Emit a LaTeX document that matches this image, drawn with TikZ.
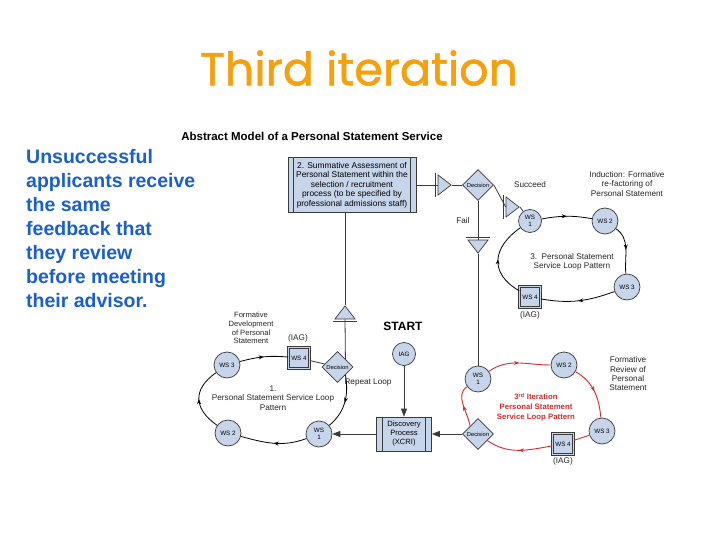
\documentclass[tikz,border=0pt]{standalone}
\usepackage{fontspec}
\setmainfont{Liberation Sans}
\newfontfamily\titlefont[FakeBold=1.2]{Poppins}
\usetikzlibrary{shapes.geometric, arrows.meta, decorations.markings, calc}
\definecolor{nodefill}{HTML}{C6D5EA}
\definecolor{nodeline}{HTML}{3A3A3A}
\definecolor{loopred}{HTML}{D42A2A}
\definecolor{titleorange}{HTML}{F5A00F}
\definecolor{noteblue}{HTML}{1A5FCB}
\begin{document}
\begin{tikzpicture}[x=1pt, y=1pt,
  ws/.style={circle, draw=nodeline, fill=nodefill, line width=0.7pt, minimum size=26pt,
             inner sep=0pt, align=center, font=\fontsize{6.3}{6.8}\selectfont},
  wsq/.style={rectangle, draw=nodeline, line width=0.9pt, double=nodefill, double distance=1.4pt,
              fill=nodefill, minimum size=21pt, inner sep=0pt, font=\fontsize{6.3}{6.8}\selectfont},
  dec/.style={diamond, draw=nodeline, fill=nodefill, line width=0.7pt, minimum size=31pt,
              inner xsep=-6pt, inner ysep=0pt, font=\fontsize{5.8}{7}\selectfont},
  proc/.style={rectangle, draw=nodeline, fill=nodefill, line width=0.7pt, align=center,
               inner sep=0pt, font=\fontsize{8.4}{9.5}\selectfont},
  tri/.style={isosceles triangle, isosceles triangle stretches, draw=nodeline, fill=nodefill,
              line width=0.7pt, inner sep=0pt, minimum width=20pt, minimum height=13pt},
  lbl/.style={align=center, text=black!85, font=\fontsize{8.2}{9.3}\selectfont},
  redlbl/.style={align=center, text=loopred, font=\bfseries\fontsize{7.8}{9.6}\selectfont},
  wire/.style={line width=0.8pt, draw=nodeline},
  redwire/.style={line width=0.9pt, draw=loopred},
  arr/.style={wire, -{Triangle[length=8pt, width=6pt]}},
  bar/.style={line width=1pt, draw=nodeline},
  lp/.style={line width=0.8pt, draw=black, postaction={decorate},
             decoration={markings, mark=at position 0.5 with {\arrow{Stealth[length=5pt, width=4pt]}}}},
  redlp/.style={lp, loopred, line width=0.9pt}
]
\useasboundingbox (0,0) rectangle (720,-540);
\fill[white] (0,0) rectangle (720,-540);
\node[font=\titlefont\fontsize{46}{50}\selectfont, text=titleorange] (title) at (359,-68) {Third iteration};
\node[anchor=north west, align=left, inner sep=0pt, text=noteblue,
      font=\bfseries\fontsize{19.5}{24}\selectfont] (note) at (26,-149)
  {Unsuccessful\\applicants receive\\the same\\feedback that\\they review\\before meeting\\their advisor.};
\node[font=\bfseries\fontsize{11.5}{13}\selectfont] (head) at (312,-136) {Abstract Model of a Personal Statement Service};
\node[proc, minimum width=128pt, minimum height=55pt] (assess) at (352,-185)
  {2. Summative Assessment of\\Personal Statement within the\\selection / recruitment\\process (to be specified by\\professional admissions staff)};
\node[proc, minimum width=55pt, minimum height=34pt, font=\fontsize{7.6}{9}\selectfont] (disc) at (404,-434) {Discovery\\Process\\(XCRI)};
\foreach \n in {assess, disc} {
  \draw[wire] ([xshift=6pt]\n.north west) -- ([xshift=6pt]\n.south west);
  \draw[wire] ([xshift=-6pt]\n.north east) -- ([xshift=-6pt]\n.south east);
}
\node[tri] (tin) at (443,-185) {};
\node[dec] (dtop) at (478,-185) {Decision};
\node[tri, shape border rotate=-45] (tsucc) at (511,-207) {};
\node[tri, shape border rotate=-90] (tfail) at (478,-245) {};
\node[tri, shape border rotate=90] (tup) at (345,-314) {};
\node[ws, minimum size=23pt] (ws1t) at (530,-221) {WS\\1};
\node[ws] (ws2t) at (605,-221) {WS 2};
\node[ws] (ws3t) at (627,-287) {WS 3};
\node[wsq] (ws4t) at (530,-297) {WS 4};
\node[ws] (ws3l) at (227,-365) {WS 3};
\node[wsq] (ws4l) at (299,-358) {WS 4};
\node[dec] (decl) at (337.5,-367) {Decision};
\node[ws] (ws1l) at (319,-434) {WS\\1};
\node[ws] (ws2l) at (228,-433) {WS 2};
\node[ws, minimum size=23pt] (iag) at (404,-354) {IAG};
\node[ws] (ws1r) at (478,-379) {WS\\1};
\node[ws] (ws2r) at (564,-365) {WS 2};
\node[ws] (ws3r) at (602,-431) {WS 3};
\node[wsq] (ws4r) at (563,-444) {WS 4};
\node[dec] (decr) at (478,-434) {Decision};
\node[lbl] (succ) at (530,-185) {Succeed};
\node[lbl] (fail) at (463,-221) {Fail};
\node[lbl] (induct) at (627,-184) {Induction: Formative\\re-factoring of\\Personal Statement};
\node[lbl] (pat3) at (572,-262) {3.\ \ Personal Statement\\Service Loop Pattern};
\node[lbl] (iagt) at (530,-315) {(IAG)};
\node[lbl, font=\fontsize{7.6}{8.7}\selectfont] (formdev) at (251,-328) {Formative\\Development\\of Personal\\Statement};
\node[lbl] (iagl) at (298,-338) {(IAG)};
\node[lbl] (pat1) at (273,-398) {1.\\Personal Statement Service Loop\\Pattern};
\node[lbl] (repeat) at (368,-383) {Repeat Loop};
\node[font=\bfseries\fontsize{12}{13}\selectfont] (start) at (403,-326) {START};
\node[redlbl] (pat3rd) at (536,-407) {3\textsuperscript{rd} Iteration\\Personal Statement\\Service Loop Pattern};
\node[lbl] (review) at (628,-374) {Formative\\Review of\\Personal\\Statement};
\node[lbl] (iagr) at (563,-461) {(IAG)};
\draw[wire] (assess.east |- tin) -- (tin.lower side);
\draw[bar] ($(tin.left corner)!-2.5pt!(tin.apex)$) -- ($(tin.right corner)!-2.5pt!(tin.apex)$);
\draw[wire] (tin.apex) -- (dtop.west);
\draw[wire] (dtop.east) -- (tsucc.lower side);
\draw[bar] ($(tsucc.left corner)!-2.5pt!(tsucc.apex)$) -- ($(tsucc.right corner)!-2.5pt!(tsucc.apex)$);
\draw[wire] (tsucc.apex) -- (ws1t);
\draw[wire] (dtop.south) -- (tfail.lower side);
\draw[bar] ($(tfail.left corner)!-2.5pt!(tfail.apex)$) -- ($(tfail.right corner)!-2.5pt!(tfail.apex)$);
\draw[wire] (tfail.apex) -- (ws1r);
\draw[wire] (assess.south -| tup.apex) -- (tup.apex);
\draw[bar] ($(tup.left corner)!-2.5pt!(tup.apex)$) -- ($(tup.right corner)!-2.5pt!(tup.apex)$);
\draw[wire] (tup.lower side) -- (decl.north east);
\draw[lp] (ws1t) to[out=10, in=170] (ws2t);
\draw[lp] (ws2t) to[out=-35, in=95] (ws3t);
\draw[lp] (ws3t) to[out=200, in=-10] (ws4t);
\draw[lp] (ws4t) to[out=150, in=215, looseness=1.4] (ws1t);
\draw[lp] (ws3l) to[out=15, in=175] (ws4l);
\draw[wire] (ws4l) -- (decl);
\draw[lp] (decl.south east) to[out=-80, in=40] (ws1l);
\draw[lp] (ws1l) to[out=200, in=-15] (ws2l);
\draw[lp] (ws2l) to[out=145, in=215, looseness=1.4] (ws3l);
\draw[arr] (iag) -- (disc);
\draw[arr] (disc) -- (ws1l);
\draw[arr] (decr) -- (disc);
\draw[redlp] (ws1r) to[out=35, in=180] (ws2r);
\draw[redlp] (ws2r) to[out=-30, in=95] (ws3r);
\draw[redwire] (ws3r) -- (ws4r);
\draw[redlp] (ws4r) to[out=190, in=-35] (decr);
\draw[redlp] (decr.north west) to[out=100, in=215] (ws1r);
\end{tikzpicture}
\end{document}
